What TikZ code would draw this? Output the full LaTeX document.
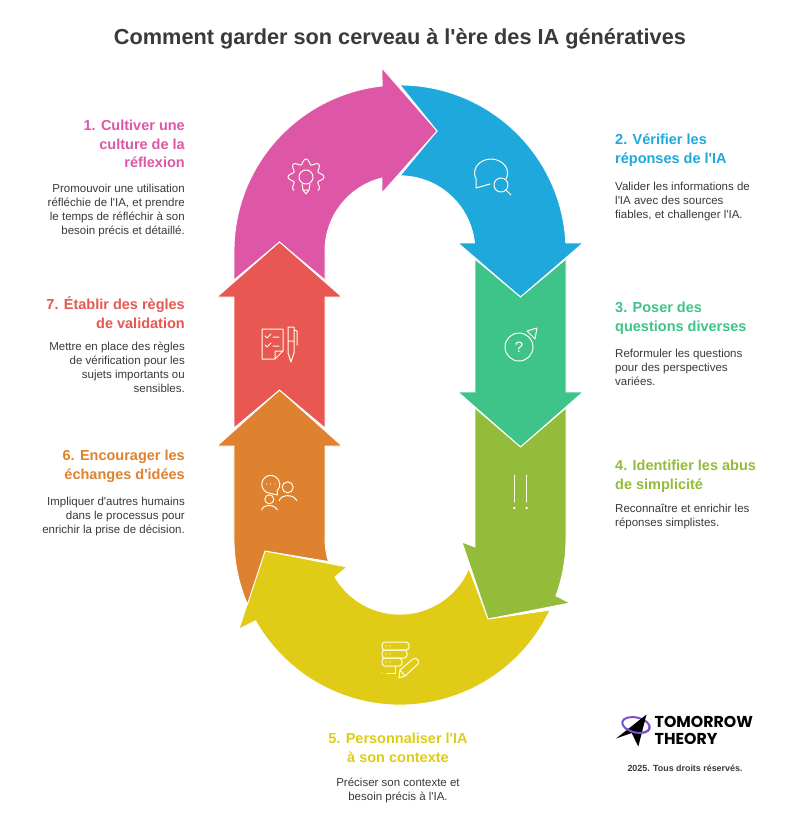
\documentclass[tikz,border=0pt]{standalone}
\usepackage{fontspec}
\setmainfont{Liberation Sans}
\newfontfamily\labelfont{Liberation Sans}
\newfontfamily\logofont{Poppins}
\definecolor{cpink}{HTML}{DD57A6}
\definecolor{cblue}{HTML}{1FA8DC}
\definecolor{cgreen}{HTML}{3EC488}
\definecolor{colive}{HTML}{93BC3B}
\definecolor{cyellow}{HTML}{E0CC16}
\definecolor{corange}{HTML}{DF822F}
\definecolor{cred}{HTML}{E85751}
\definecolor{cink}{HTML}{3A3A3A}
\definecolor{cring}{HTML}{7B4FD0}
\tikzstyle{band}=[draw=white, line width=0.9pt, line join=miter]
\tikzstyle{icon}=[draw=white!92!yellow, line width=1pt, line cap=round, line join=round]
\tikzstyle{head}=[inner sep=0pt, font=\labelfont\fontsize{14.5}{18.6}\selectfont\bfseries]
\tikzstyle{body}=[inner sep=0pt, text=cink, font=\labelfont\fontsize{11.5}{14}\selectfont]
\begin{document}
\begin{tikzpicture}[x=1pt, y=1pt]
    \useasboundingbox (0, 0) rectangle (800, -823);
    \fill[white] (0, 0) rectangle (800, -823);
    % arrows
    \draw[band, fill=cblue] (400, -85) arc[start angle=90, end angle=2.8, radius=166] -- (583, -243) -- (520.5, -297) -- (458, -243) -- (474.5, -243) arc[start angle=6, end angle=90, radius=75] -- (437, -131) -- cycle;
    \draw[band, fill=cpink] (234, -280) -- (234, -251) arc[start angle=180, end angle=96.2, radius=166] -- (382, -68) -- (437, -131) -- (382, -193) -- (382, -178) arc[start angle=103.9, end angle=180, radius=75] -- (325, -280) -- (279.5, -242) -- cycle;
    \draw[band, fill=cgreen] (475, -259) -- (475, -392) -- (458, -392) -- (520.5, -447) -- (583, -392) -- (566, -392) -- (566, -259) -- (520.5, -297) -- cycle;
    \draw[band, fill=colive] (566, -408) -- (566, -539) arc[start angle=0, end angle=-20, radius=166] -- (570, -603) -- (488, -619) -- (462, -542) -- (475, -547) -- (475, -408) -- (520.5, -447) -- cycle;
    \draw[band, fill=cyellow] (550.1, -610) arc[start angle=-25.3, end angle=-150.5, radius=166] -- (239, -629) -- (265, -551) -- (347, -567) -- (335, -577) arc[start angle=-149.7, end angle=-22.8, radius=75] -- (488, -619) -- cycle;
    \draw[band, fill=corange] (279.5, -390) -- (342, -446) -- (325, -446) -- (325, -539) arc[start angle=180, end angle=197.5, radius=75] -- (265, -551) -- (247.4, -604.3) arc[start angle=203.2, end angle=180, radius=166] -- (234, -446) -- (217, -446) -- cycle;
    \draw[band, fill=cred] (279.5, -242) -- (342, -297) -- (325, -297) -- (325, -428) -- (279.5, -390) -- (234, -428) -- (234, -297) -- (217, -297) -- cycle;
    % icon 1
    \draw[icon] plot[smooth, domain=-48:228, samples=90] ({306+(15.5+2.5*cos(8*\x))*cos(\x)}, {-177+(15.5+2.5*cos(8*\x))*sin(\x)});
    \draw[icon] (306, -177) circle (7);
    \draw[icon] (302, -184) -- (303, -190) -- (309, -190) -- (310, -184) (303, -190) -- (306, -194) -- (309, -190);
    % icon 2
    \draw[icon] (506, -179) arc[start angle=-25, end angle=205, x radius=16.5, y radius=14] -- (476, -188) -- (490, -184);
    \draw[icon] (501, -185) circle (7) (506, -190) -- (511, -195);
    % icon 3
    \draw[icon] (262, -329) -- (283, -329) -- (283, -351) -- (275, -359) -- (262, -359) -- cycle (283, -351) -- (275, -351) -- (275, -359);
    \draw[icon] (265, -336) -- (267, -338) -- (271, -334) (265, -345) -- (267, -347) -- (271, -343) (273, -337) -- (279, -337) (273, -346) -- (279, -346);
    \draw[icon] (288, -327) -- (294, -327) -- (294, -353) -- (291, -362) -- (288, -353) -- cycle (288, -341) -- (294, -341) (294, -330) -- (297, -331) -- (297, -345);
    % icon 4
    \draw[icon] (519, -347) circle (14);
    \node[inner sep=0pt, text=white, font=\fontsize{15}{15}\selectfont] (q) at (519, -347) {?};
    \draw[icon] (527, -331) -- (537, -328) -- (535, -339) -- cycle;
    % icon 5
    \draw[icon] (514.3, -475) -- (514.3, -502) (526.7, -475) -- (526.7, -502);
    \fill[white] (514.3, -508) circle (1.3) (526.7, -508) circle (1.3);
    % icon 6
    \draw[icon] (267, -492.5) arc[start angle=245, end angle=-45, radius=9] -- (277.5, -495) -- cycle;
    \fill[white] (266.5, -484) circle (0.7) (270.7, -484) circle (0.7) (275, -484) circle (0.7);
    \draw[icon] (287.7, -487.3) circle (5.5) (279.3, -500.7) .. controls (281, -494) and (294, -494) .. (296.7, -500.7);
    \draw[icon] (269.3, -499.3) circle (4.5) (261.7, -510) .. controls (263, -504) and (275, -504) .. (277.3, -510);
    % icon 7
    \draw[icon, rounded corners=3pt] (382, -642) rectangle (409, -650);
    \draw[icon, rounded corners=3pt] (382, -650) rectangle (407, -658);
    \draw[icon, rounded corners=3pt] (382, -658) rectangle (402, -666);
    \draw[icon] (395, -666) -- (395, -673) -- (387, -673);
    \fill[white] (386, -646) circle (0.7) (390, -646) circle (0.7) (386, -654) circle (0.7) (390, -654) circle (0.7) (386, -662) circle (0.7) (390, -662) circle (0.7) (382, -673) circle (0.7);
    \draw[icon] (399, -678) -- (400, -670) -- (413, -659) .. controls (417, -657) and (420, -661) .. (418, -664) -- (405, -676) -- cycle (400, -670) -- (405, -676);
    % texts
    \node[inner sep=0pt, text=cink, font=\labelfont\fontsize{21.7}{26}\selectfont\bfseries] (title) at (400, -39) {Comment garder son cerveau à l'ère des IA génératives};
    \node[head, text=cpink, anchor=north east, align=right] (h1) at (185, -120) {1. Cultiver une\\culture de la\\réflexion};
    \node[body, anchor=north east, align=right] (b1) at (185, -184) {Promouvoir une utilisation\\réfléchie de l'IA, et prendre\\le temps de réfléchir à son\\besoin précis et détaillé.};
    \node[head, text=cblue, anchor=north west, align=left] (h2) at (615, -134) {2. Vérifier les\\réponses de l'IA};
    \node[body, anchor=north west, align=left] (b2) at (615, -182) {Valider les informations de\\l'IA avec des sources\\fiables, et challenger l'IA.};
    \node[head, text=cgreen, anchor=north west, align=left] (h3) at (615, -302) {3. Poser des\\questions diverses};
    \node[body, anchor=north west, align=left] (b3) at (615, -349) {Reformuler les questions\\pour des perspectives\\variées.};
    \node[head, text=colive, anchor=north west, align=left] (h4) at (615, -460) {4. Identifier les abus\\de simplicité};
    \node[body, anchor=north west, align=left] (b4) at (615, -504) {Reconnaître et enrichir les\\réponses simplistes.};
    \node[head, text=cyellow, anchor=north, align=center] (h5) at (398, -733) {5. Personnaliser l'IA\\à son contexte};
    \node[body, anchor=north, align=center] (b5) at (398, -778) {Préciser son contexte et\\besoin précis à l'IA.};
    \node[head, text=corange, anchor=north east, align=right] (h6) at (185, -450) {6. Encourager les\\échanges d'idées};
    \node[body, anchor=north east, align=right] (b6) at (185, -497) {Impliquer d'autres humains\\dans le processus pour\\enrichir la prise de décision.};
    \node[head, text=cred, anchor=north east, align=right] (h7) at (185, -296.5) {7. Établir des règles\\de validation};
    \node[body, anchor=north east, align=right] (b7) at (185, -342) {Mettre en place des règles\\de vérification pour les\\sujets importants ou\\sensibles.};
    % logo
    \draw[cring, line width=2pt, rotate around={-13:(636, -725)}] (636, -725) ellipse (14 and 7.5);
    \fill[black] (646.5, -714.5) -- (616, -738.5) -- (631.7, -733) -- (638.3, -746.5) -- cycle;
    \draw[cring, line width=2pt, rotate around={-13:(636, -725)}] (636, -725) ++(-130:14 and 7.5) arc[start angle=-130, end angle=20, x radius=14, y radius=7.5];
    \node[inner sep=0pt, anchor=west, font=\logofont\fontsize{15.8}{17}\selectfont\bfseries] (logo1) at (654.5, -722) {TOMORROW};
    \node[inner sep=0pt, anchor=west, font=\logofont\fontsize{15.8}{17}\selectfont\bfseries] (logo2) at (654.5, -739) {THEORY};
    \node[inner sep=0pt, text=cink, font=\labelfont\fontsize{8.9}{10}\selectfont\bfseries] (rights) at (685, -768) {2025. Tous droits réservés.};
\end{tikzpicture}
\end{document}
